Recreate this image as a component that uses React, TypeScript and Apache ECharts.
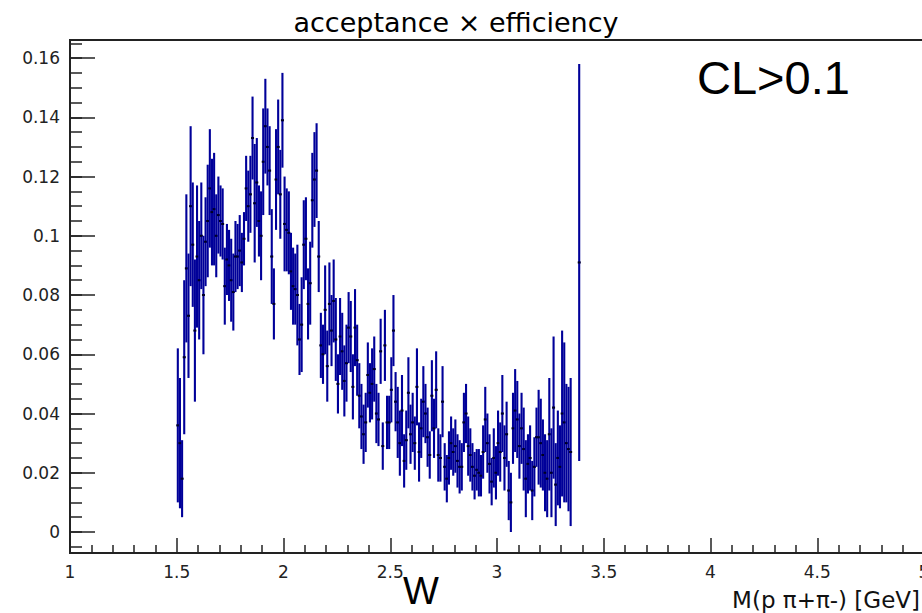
import React, { useEffect, useRef } from "react";
import * as echarts from "echarts";

// Histogram binning (GeV)
const BIN_LOW_CENTER = 1.505;
const BIN_WIDTH = 0.01;

// acceptance x efficiency per bin (null = empty bin)
const effValues: (number | null)[] = [
  0.036, 0.030, 0.018, 0.059, 0.089, 0.073, 0.110, 0.097, 0.068, 0.093,
  0.085, 0.100, 0.080, 0.098, 0.105, 0.116, 0.108, 0.109, 0.100, 0.107,
  0.105, 0.104, 0.083, 0.092, 0.090, 0.085, 0.081, 0.093, 0.093, 0.095,
  0.091, 0.099, 0.116, 0.110, 0.114, 0.133, 0.111, 0.118, 0.105, 0.100,
  0.125, 0.137, 0.130, 0.122, 0.093, 0.077, 0.119, 0.130, 0.114, 0.139,
  0.104, 0.102, 0.101, 0.088, 0.083, 0.082, 0.080, 0.065, 0.070, 0.097,
  0.099, 0.077, 0.084, 0.112, 0.119, 0.122, 0.093, 0.063, 0.060, 0.075,
  0.056, 0.077, 0.068, 0.078, 0.065, 0.050, 0.066, 0.061, 0.051, 0.057,
  0.069, 0.066, 0.049, 0.069, 0.058, 0.046, 0.039, 0.033, 0.037, 0.053,
  0.047, 0.050, 0.055, 0.040, 0.038, 0.061, 0.029, 0.063, 0.037, 0.037,
  0.048, 0.068, 0.044, 0.037, 0.030, 0.041, 0.024, 0.031, 0.047, 0.033,
  0.037, 0.030, 0.049, 0.027, 0.035, 0.044, 0.040, 0.032, 0.026, 0.046,
  0.035, 0.048, 0.026, 0.025, 0.044, 0.022, 0.018, 0.025, 0.030, 0.027,
  0.029, 0.024, 0.022, 0.022, 0.037, 0.040, 0.029, 0.026, 0.022, 0.019,
  0.021, 0.020, 0.019, 0.027, 0.038, 0.030, 0.023, 0.017, 0.025, 0.020,
  0.030, 0.027, 0.040, 0.025, 0.033, 0.014, 0.010, 0.035, 0.041, 0.038,
  0.029, 0.035, 0.028, 0.018, 0.023, 0.025, 0.014, 0.022, 0.032, 0.032,
  0.030, 0.026, 0.020, 0.018, 0.033, 0.020, 0.042, 0.016, 0.025, 0.022,
  0.040, 0.037, 0.030, 0.028, 0.027, null, null, null, 0.091,
];

// statistical error per bin
const effErrors: (number | null)[] = [
  0.026, 0.022, 0.013, 0.026, 0.025, 0.021, 0.027, 0.021, 0.024, 0.024,
  0.020, 0.018, 0.020, 0.015, 0.019, 0.020, 0.018, 0.019, 0.014, 0.013,
  0.012, 0.012, 0.013, 0.012, 0.012, 0.014, 0.013, 0.012, 0.011, 0.012,
  0.010, 0.009, 0.011, 0.012, 0.013, 0.014, 0.020, 0.015, 0.012, 0.015,
  0.018, 0.016, 0.013, 0.015, 0.016, 0.012, 0.017, 0.016, 0.015, 0.016,
  0.016, 0.014, 0.014, 0.013, 0.013, 0.012, 0.017, 0.012, 0.016, 0.015,
  0.014, 0.012, 0.014, 0.016, 0.016, 0.016, 0.012, 0.011, 0.010, 0.015,
  0.012, 0.014, 0.012, 0.014, 0.014, 0.010, 0.013, 0.013, 0.012, 0.013,
  0.012, 0.012, 0.011, 0.013, 0.012, 0.011, 0.011, 0.010, 0.010, 0.011,
  0.010, 0.012, 0.011, 0.010, 0.009, 0.011, 0.008, 0.012, 0.009, 0.009,
  0.011, 0.012, 0.010, 0.012, 0.011, 0.012, 0.009, 0.010, 0.012, 0.010,
  0.010, 0.009, 0.013, 0.010, 0.010, 0.012, 0.010, 0.010, 0.008, 0.012,
  0.010, 0.013, 0.009, 0.008, 0.012, 0.008, 0.008, 0.009, 0.009, 0.008,
  0.009, 0.009, 0.009, 0.008, 0.010, 0.010, 0.010, 0.009, 0.008, 0.008,
  0.007, 0.008, 0.007, 0.009, 0.011, 0.010, 0.010, 0.008, 0.010, 0.009,
  0.011, 0.010, 0.013, 0.011, 0.011, 0.010, 0.010, 0.012, 0.014, 0.013,
  0.011, 0.012, 0.014, 0.013, 0.010, 0.011, 0.010, 0.010, 0.010, 0.016,
  0.015, 0.012, 0.013, 0.013, 0.019, 0.015, 0.024, 0.014, 0.016, 0.014,
  0.028, 0.027, 0.020, 0.021, 0.025, null, null, null, 0.067,
];

const yMajorTicks = [0, 0.02, 0.04, 0.06, 0.08, 0.1, 0.12, 0.14, 0.16];
const yMinorTicks = [
  -0.005, 0, 0.005, 0.01, 0.015, 0.02, 0.025, 0.03, 0.035, 0.04, 0.045, 0.05,
  0.055, 0.06, 0.065, 0.07, 0.075, 0.08, 0.085, 0.09, 0.095, 0.1, 0.105, 0.11,
  0.115, 0.12, 0.125, 0.13, 0.135, 0.14, 0.145, 0.15, 0.155, 0.16, 0.165,
];
const Y_MIN = -0.00709;
const Y_MAX = 0.1661;
const X_MIN = 1;
const X_MAX = 5;

const TITLE = "acceptance \u00d7 efficiency";
const X_TITLE = "M(p \u03c0+\u03c0-) [GeV]";
const NOTE = "CL>0.1";
const W_LABEL = "W";

const ROOT_FONT = '"DejaVu Sans", "Liberation Sans", sans-serif';
const ARIAL = '"Liberation Sans", Arial, sans-serif';
const BAR_COLOR = "#000099";
const AXIS_COLOR = "#222";

export default function App() {
  const ref = useRef<HTMLDivElement>(null);

  useEffect(() => {
    if (!ref.current) return;
    const chart = echarts.init(ref.current, null, { renderer: "svg" });

    const data: number[][] = [];
    effValues.forEach((v, i) => {
      const e = effErrors[i];
      if (v == null || e == null) return;
      data.push([BIN_LOW_CENTER + i * BIN_WIDTH, v, e]);
    });

    const fmt = (v: number) => String(parseFloat(v.toFixed(3)));

    chart.setOption({
      animation: false,
      backgroundColor: "#fff",
      grid: {
        left: 70,
        top: 40,
        right: -2,
        bottom: 60,
        outerBoundsMode: "none",
        containLabel: false,
        show: true,
        borderColor: AXIS_COLOR,
        borderWidth: 2,
        backgroundColor: "transparent",
      },
      xAxis: {
        type: "value",
        min: X_MIN,
        max: X_MAX,
        interval: 0.5,
        axisLine: { show: true, onZero: false, lineStyle: { color: AXIS_COLOR, width: 2 } },
        splitLine: { show: false },
        axisTick: { show: true, inside: true, length: 15, lineStyle: { color: AXIS_COLOR, width: 1.5 } },
        minorTick: { show: true, splitNumber: 5, length: 8, lineStyle: { color: AXIS_COLOR, width: 1.5 } },
        minorSplitLine: { show: false },
        axisLabel: {
          show: true,
          margin: 10,
          fontFamily: ROOT_FONT,
          fontSize: 17,
          color: AXIS_COLOR,
          showMinLabel: true,
          showMaxLabel: true,
          hideOverlap: false,
          formatter: (v: number) => fmt(v),
        },
      },
      yAxis: [
        {
          type: "value",
          min: Y_MIN,
          max: Y_MAX,
          axisLine: { show: true, onZero: false, lineStyle: { color: AXIS_COLOR, width: 2 } },
          splitLine: { show: false },
          axisTick: {
            show: true,
            inside: true,
            length: 25,
            customValues: yMajorTicks,
            lineStyle: { color: AXIS_COLOR, width: 1.5 },
          },
          axisLabel: {
            show: true,
            customValues: yMajorTicks,
            margin: 10,
            fontFamily: ROOT_FONT,
            fontSize: 17,
            color: AXIS_COLOR,
            formatter: (v: number) => fmt(v),
          },
        },
        {
          type: "value",
          min: Y_MIN,
          max: Y_MAX,
          position: "left",
          axisLine: { show: false, onZero: false },
          splitLine: { show: false },
          axisLabel: { show: false },
          axisTick: {
            show: true,
            inside: true,
            length: 12,
            customValues: yMinorTicks,
            lineStyle: { color: AXIS_COLOR, width: 1.5 },
          },
        },
      ],
      series: [
        {
          type: "custom",
          xAxisIndex: 0,
          yAxisIndex: 0,
          clip: true,
          data,
          encode: { x: 0, y: 1 },
          renderItem: (params: any, api: any) => {
            const x = api.value(0);
            const y = api.value(1);
            const e = api.value(2);
            const top = api.coord([x, y + e]);
            const bot = api.coord([x, y - e]);
            const c = api.coord([x, y]);
            const hw = api.size([BIN_WIDTH, 0])[0] / 2;
            return {
              type: "group",
              children: [
                {
                  type: "line",
                  shape: { x1: top[0], y1: top[1], x2: bot[0], y2: bot[1] },
                  style: { stroke: BAR_COLOR, lineWidth: 2.1 },
                },
                {
                  type: "line",
                  shape: { x1: c[0] - hw, y1: c[1], x2: c[0] + hw, y2: c[1] },
                  style: { stroke: BAR_COLOR, lineWidth: 2 },
                },
                {
                  type: "rect",
                  shape: { x: c[0] - 1.5, y: c[1] - 1, width: 3, height: 2 },
                  style: { fill: "#000022" },
                },
              ],
            };
          },
        },
      ],
      graphic: [
        {
          type: "text",
          x: 456,
          y: 22,
          style: {
            text: TITLE,
            font: `27px ${ROOT_FONT}`,
            fill: "#000",
            align: "center",
            verticalAlign: "middle",
          },
        },
        {
          type: "text",
          x: 697,
          y: 77,
          style: {
            text: NOTE,
            font: `47px ${ARIAL}`,
            fill: "#000",
            align: "left",
            verticalAlign: "middle",
          },
        },
        {
          type: "text",
          x: 421,
          y: 591,
          style: {
            text: W_LABEL,
            font: `38px ${ARIAL}`,
            fill: "#000",
            align: "center",
            verticalAlign: "middle",
          },
        },
        {
          type: "text",
          x: 920,
          y: 600,
          style: {
            text: X_TITLE,
            font: `23px ${ROOT_FONT}`,
            fill: "#111",
            align: "right",
            verticalAlign: "middle",
          },
        },
      ],
    });

    return () => {
      chart.dispose();
    };
  }, []);

  return (
    <div
      ref={ref}
      style={{ position: "fixed", left: 0, top: 0, width: 922, height: 613, background: "#fff" }}
    />
  );
}
